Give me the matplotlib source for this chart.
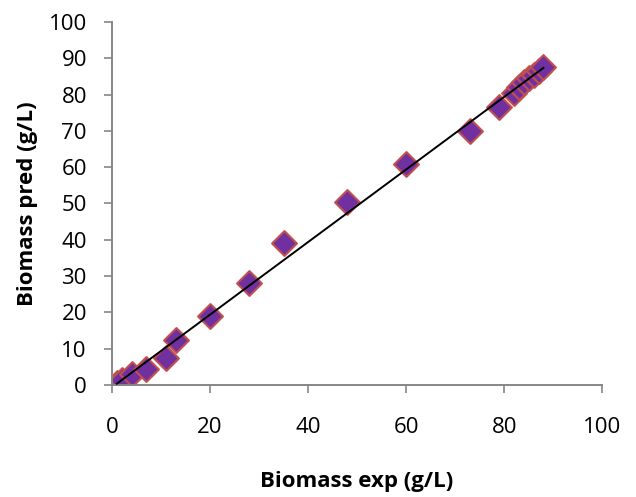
import numpy as np
import matplotlib
matplotlib.use("Agg")
import matplotlib.pyplot as plt

# ── Data ──────────────────────────────────────────────────────────────────────
biomass_exp = [1, 2, 4, 7, 11, 13, 20, 28, 35, 48, 60, 73, 79, 82, 83, 84, 85, 86, 87, 88]
biomass_pred = [0.5, 1.5, 3, 4.5, 7.5, 12.5, 19, 28, 39, 50.5, 61, 70, 76.5, 80.5, 82,
                83.5, 84.5, 85.5, 86.5, 87.5]

plt.rcParams["font.family"] = ["Open Sans", "DejaVu Sans"]

fig = plt.figure(figsize=(6.36, 4.97), dpi=100)
ax = fig.add_axes([0.176, 0.2254, 0.771, 0.7303])

ax.scatter(biomass_exp, biomass_pred, marker="D", s=160, color="#7030A0",
           edgecolor="#C0504D", linewidth=1.5, zorder=2)

# linear trend line over the data range
slope, intercept = np.polyfit(biomass_exp, biomass_pred, 1)
xs = np.array([min(biomass_exp), max(biomass_exp)])
ax.plot(xs, slope * xs + intercept, color="black", linewidth=1.4, zorder=3)

ax.set_xlim(0, 100)
ax.set_ylim(0, 100)
ax.set_xticks(range(0, 101, 20))
ax.set_yticks(range(0, 101, 10))
ax.tick_params(labelsize=16, color="#868686", length=6, width=1.2, direction="out")
ax.tick_params(axis="y", pad=12)
ax.tick_params(axis="x", pad=17)
for s in ("top", "right"):
    ax.spines[s].set_visible(False)
for s in ("left", "bottom"):
    ax.spines[s].set_color("#868686")
    ax.spines[s].set_linewidth(1.4)

ax.set_xlabel("Biomass exp (g/L)", fontsize=16, fontweight="bold", labelpad=24)
ax.set_ylabel("Biomass pred (g/L)", fontsize=16, fontweight="bold", labelpad=8)

fig.savefig("out.png", dpi=100)
